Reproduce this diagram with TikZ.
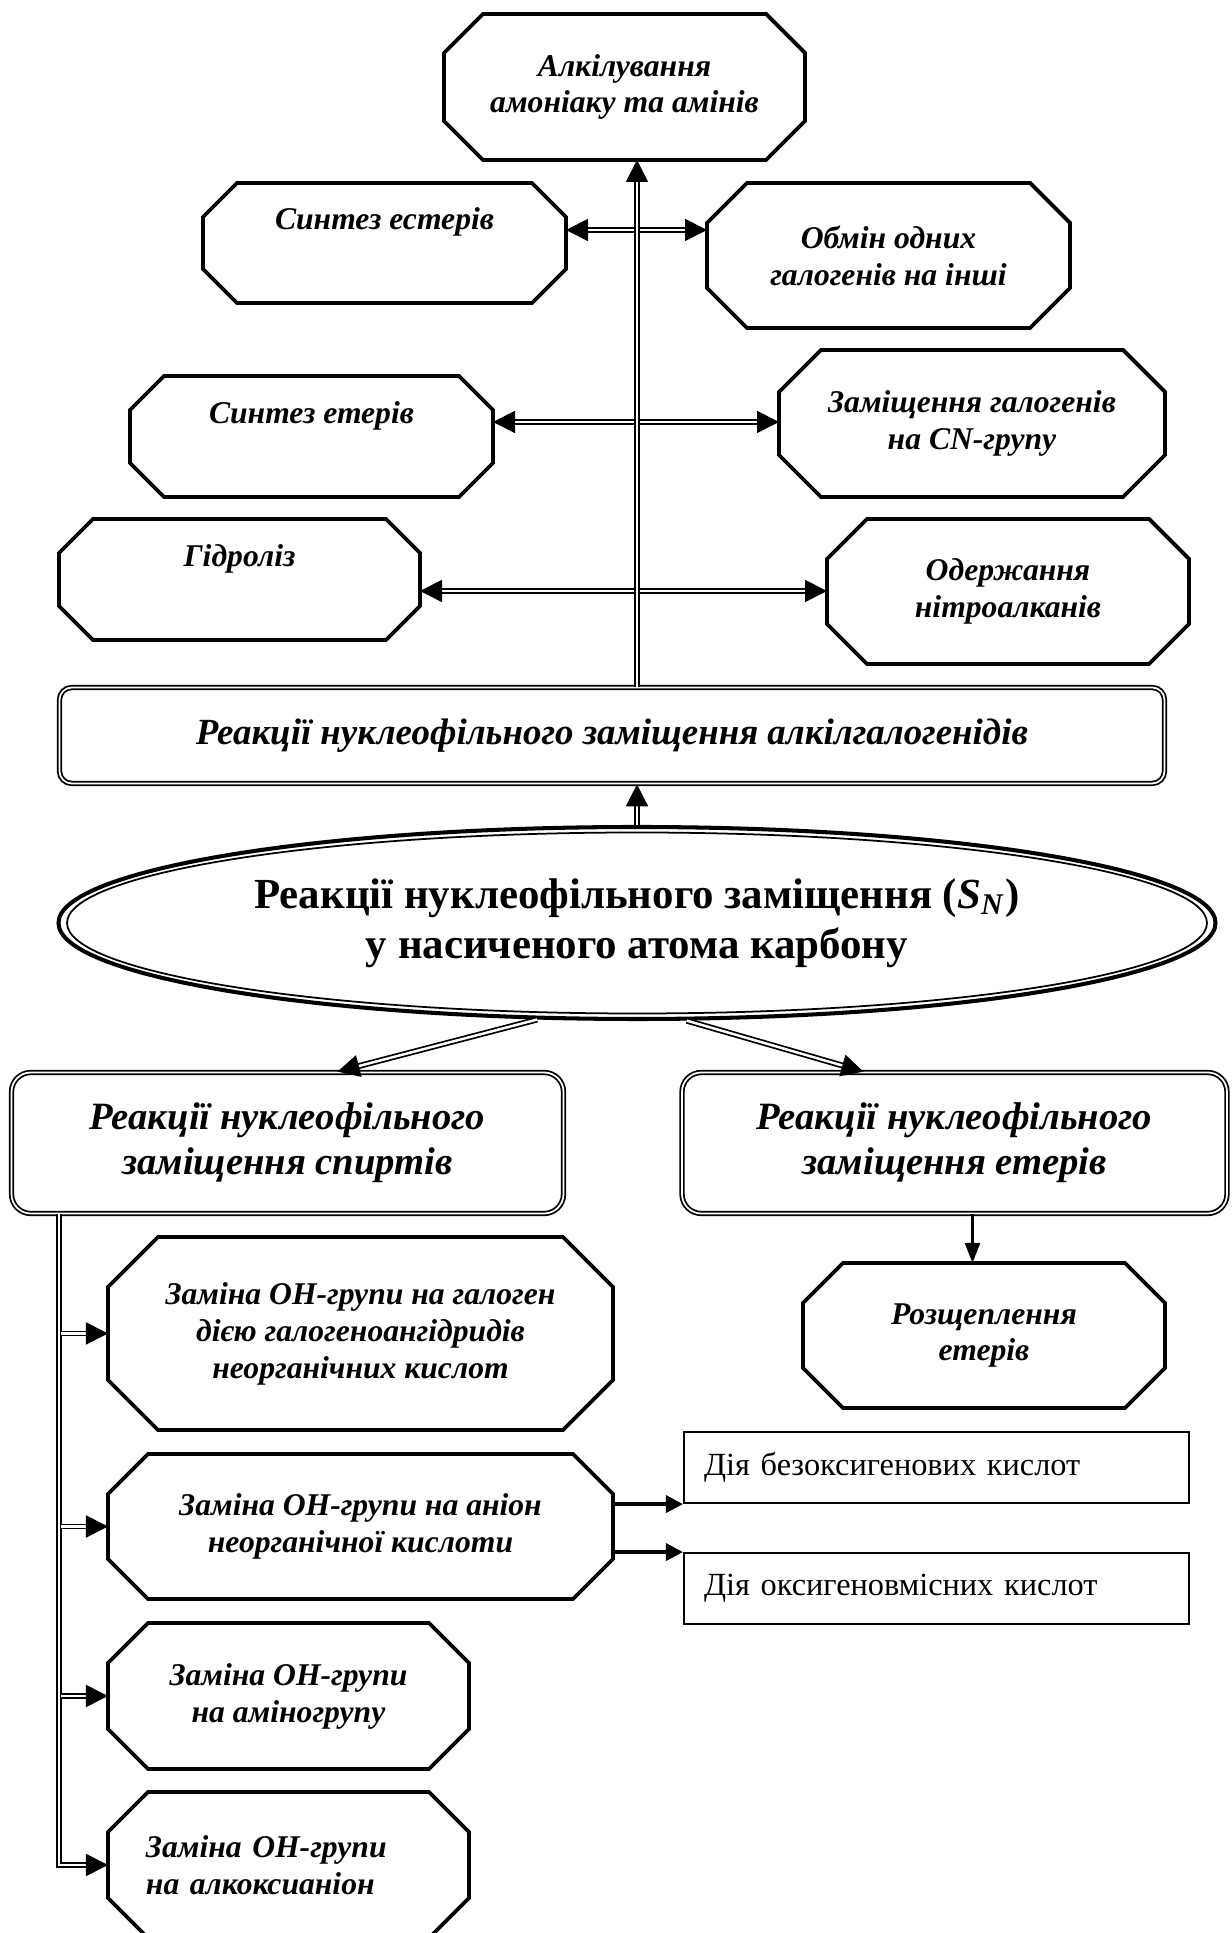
\documentclass[tikz,border=0pt]{standalone}
\usepackage{fontspec}
\setmainfont{Liberation Serif}
\usetikzlibrary{arrows.meta,positioning,calc,shapes.geometric}

% octagon outline around a borderless node: #1 node name, #2 corner cut
\newcommand{\octframe}[2]{%
  \draw[octline] ($(#1.north west)+(#2,0)$) -- ($(#1.north east)+(-#2,0)$)
    -- ($(#1.north east)+(0,-#2)$) -- ($(#1.south east)+(0,#2)$)
    -- ($(#1.south east)+(-#2,0)$) -- ($(#1.south west)+(#2,0)$)
    -- ($(#1.south west)+(0,#2)$) -- ($(#1.north west)+(0,-#2)$) -- cycle;}

\begin{document}
\begin{tikzpicture}[
    font=\fontsize{9}{10.5}\selectfont\bfseries\itshape,
    octa/.style={minimum width=3.61cm, minimum height=1.46cm, inner sep=0pt, outer sep=0pt, align=center},
    octline/.style={line join=miter, line width=1.1pt},
    dbox/.style={draw, double, double distance=0.5pt, line width=0.5pt, inner sep=0pt, align=center},
    plainbox/.style={draw, line width=0.6pt, minimum width=5.05cm, minimum height=0.71cm, text width=4.65cm, inner xsep=0.2cm, align=left, font=\fontsize{9.2}{11}\selectfont},
    dbl/.style={double, double distance=0.7pt, line width=0.5pt},
    dblarrow/.style={dbl, -{Triangle[length=2.2mm, width=2.2mm]}},
    dblboth/.style={dbl, {Triangle[length=2.2mm, width=2.2mm]}-{Triangle[length=2.2mm, width=2.2mm]}},
    thinarrow/.style={line width=0.6pt, -{Triangle[length=2mm, width=1.5mm]}},
    boldarrow/.style={line width=1.1pt, -{Triangle[length=1.7mm, width=1.7mm]}}
]
\path[fill=white] (0,0) rectangle (12.32,19.33);
\useasboundingbox (0,0) rectangle (12.32,19.33);

% alkyl halide reactions
\node[octa] (alk) at (6.245,18.46) {Алкілування\\амоніаку та амінів};
\node[octa, minimum width=3.63cm, minimum height=1.20cm] (se) at (3.845,16.90) {Синтез естерів\\ \strut};
\node[octa, minimum width=3.63cm, minimum height=1.45cm] (ob) at (8.885,16.775) {Обмін одних\\галогенів на інші};
\node[octa, minimum width=3.63cm, minimum height=1.21cm] (sa) at (3.115,14.965) {Синтез етерів\\ \strut};
\node[octa, minimum width=3.86cm, minimum height=1.47cm] (zg) at (9.72,15.095) {Заміщення галогенів\\на CN-групу};
\node[octa, minimum height=1.21cm] (gd) at (2.395,13.535) {Гідроліз\\ \strut};
\node[octa, minimum width=3.62cm, minimum height=1.45cm] (nt) at (10.08,13.415) {Одержання\\нітроалканів};
\octframe{alk}{0.39}
\octframe{se}{0.34}
\octframe{ob}{0.40}
\octframe{sa}{0.34}
\octframe{zg}{0.42}
\octframe{gd}{0.34}
\octframe{nt}{0.40}

\node[dbox, minimum width=11.05cm, minimum height=0.96cm, rounded corners=3.5pt, font=\fontsize{10.5}{12.5}\selectfont\bfseries\itshape] (ah) at (6.12,11.975) {Реакції нуклеофільного заміщення алкілгалогенідів};

% central ellipse
\node[ellipse, draw, line width=1.15pt, minimum width=11.57cm, minimum height=1.92cm, inner sep=0pt, align=center, font=\fontsize{12.2}{14.2}\selectfont\bfseries] (e) at (6.37,10.10) {Реакції нуклеофільного заміщення (\textit{S}\textsubscript{\textit{N}})\\у насиченого атома карбону};
\draw[line width=0.5pt] (e.center) ellipse [x radius=5.70, y radius=0.905];

\node[dbox, minimum width=5.52cm, minimum height=1.41cm, rounded corners=5.5pt, font=\fontsize{11}{12.8}\selectfont\bfseries\itshape] (sp) at (2.875,7.90) {Реакції нуклеофільного\\заміщення спиртів};
\node[dbox, minimum width=5.45cm, minimum height=1.41cm, rounded corners=5.5pt, font=\fontsize{11}{12.8}\selectfont\bfseries\itshape] (et) at (9.545,7.90) {Реакції нуклеофільного\\заміщення етерів};

% alcohols
\node[octa, minimum width=5.05cm, minimum height=1.93cm] (o1) at (3.605,5.995) {Заміна OH-групи на галоген\\дією галогеноангідридів\\неорганічних кислот};
\node[octa, minimum width=5.05cm, minimum height=1.45cm, below=0.24cm of o1] (o2) {Заміна OH-групи на аніон\\неорганічної кислоти};
\node[octa, below=0.24cm of o2.south west, anchor=north west] (o3) {Заміна OH-групи\\на аміногрупу};
\node[octa, below=0.23cm of o3, text width=2.85cm, align=left] (o4) {Заміна OH-групи\\на алкоксианіон};
\octframe{o1}{0.50}
\octframe{o2}{0.40}
\octframe{o3}{0.40}
\octframe{o4}{0.40}

% ethers
\node[octa, minimum width=3.62cm, minimum height=1.45cm] (rz) at (9.84,5.975) {Розщеплення\\етерів};
\octframe{rz}{0.40}

\node[plainbox] (r1) at (9.365,4.655) {Дія безоксигенових кислот};
\node[plainbox, below=0.48cm of r1] (r2) {Дія оксигеновмісних кислот};

% connectors
\draw[dblboth] ([yshift=1.3mm]se.east) -- ([yshift=1.3mm]se.east -| ob.west);
\draw[dblboth] ([yshift=1.45mm]sa.east) -- ([yshift=1.45mm]sa.east -| zg.west);
\draw[dblboth] ([yshift=-1.15mm]gd.east) -- ([yshift=-1.15mm]gd.east -| nt.west);
\draw[dblarrow] (e.north |- ah.north) -- (e.north |- alk.south);
\draw[dblarrow] (e.north) -- (e.north |- ah.south);

\draw[dblarrow] (e.224) -- ([xshift=5mm]sp.north);
\draw[dblarrow] (e.297) -- ([xshift=-9.1mm]et.north);

\coordinate (trunk) at (0.59,0);
\draw[dblarrow] (sp.south -| trunk) |- (o4.west);
\foreach \n in {o1,o2,o3}
  \draw[dblarrow] ([xshift=0.25mm]\n.west -| trunk) -- (\n.west);

\draw[thinarrow] ([xshift=1.8mm]et.south) -- ([xshift=1.8mm]et.south |- rz.north);
\draw[boldarrow] (o2.east |- r1.south west) -- (r1.south west);
\draw[boldarrow] (o2.east |- r2.north west) -- (r2.north west);
\end{tikzpicture}
\end{document}
